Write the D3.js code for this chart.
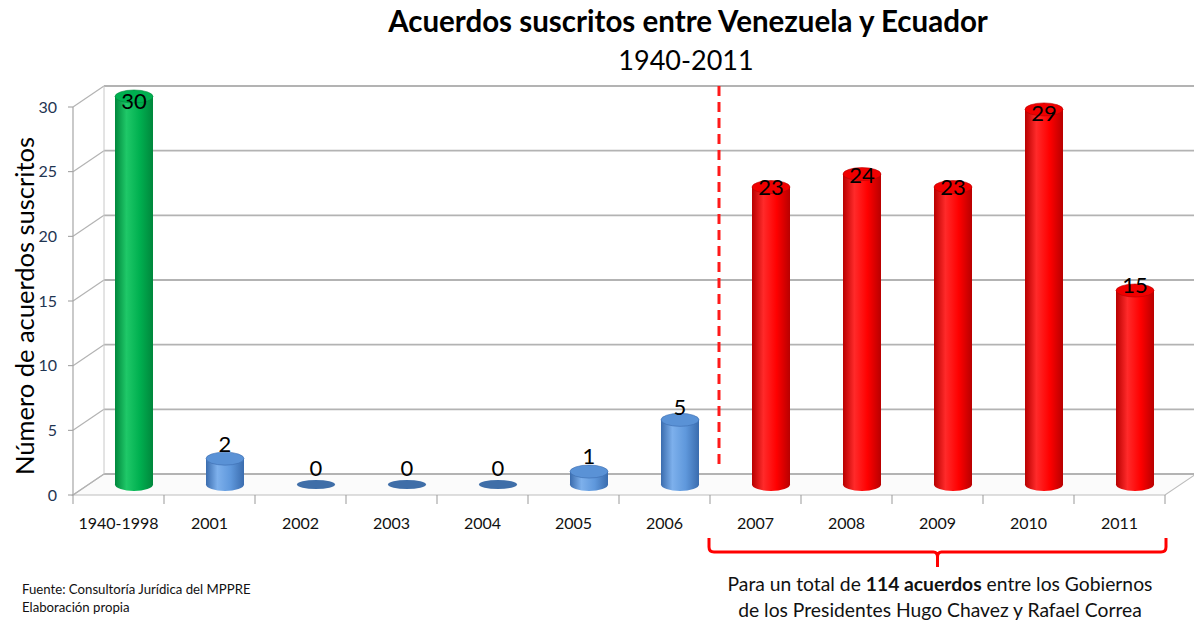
<!DOCTYPE html>
<html>
<head>
<meta charset="utf-8">
<script src="https://cdn.jsdelivr.net/npm/d3@7"></script>
<style>
  body { margin: 0; background: #fff; }
  svg { display: block; font-family: Lato, "Open Sans", sans-serif; }
</style>
</head>
<body>
<div id="chart"></div>
<script>
// Acuerdos suscritos entre Venezuela y Ecuador, 1940-2011
var categories = ["1940-1998", "2001", "2002", "2003", "2004", "2005", "2006",
                  "2007", "2008", "2009", "2010", "2011"];
var values = [30, 2, 0, 0, 0, 1, 5, 23, 24, 23, 29, 15];
var groups = ["pre", "chavez", "chavez", "chavez", "chavez", "chavez", "chavez",
              "correa", "correa", "correa", "correa", "correa"];
var yTicks = [0, 5, 10, 15, 20, 25, 30];

var W = 1194, H = 623;
var svg = d3.select("#chart").append("svg").attr("width", W).attr("height", H);
var defs = svg.append("defs");

// front plane and the 3d depth
var x = d3.scaleBand().domain(categories).range([73, 1165]);
var yFront = d3.scaleLinear().domain([0, 30]).range([495, 107]);
var depthX = 31, depthY = -21;
function yBack(v){ return yFront(v) + depthY; }
function yMid(v){ return yFront(v) + depthY / 2; }

var palette = {
  pre:    {edge: "#00873c", mid: "#00b050", light: "#1fc868", top: "#00b050", flat: "#00b050"},
  chavez: {edge: "#3a6cae", mid: "#5f98dc", light: "#7db0ec", top: "#5a92d6", flat: "#3f6ea8"},
  correa: {edge: "#b80000", mid: "#ff0000", light: "#ff2a2a", top: "#f00000", flat: "#e00000"}
};
Object.keys(palette).forEach(function(k){
  var p = palette[k];
  var g = defs.append("linearGradient").attr("id", "grad-" + k)
    .attr("x1", "0%").attr("x2", "100%").attr("y1", "0%").attr("y2", "0%");
  g.append("stop").attr("offset", "0%").attr("stop-color", p.edge);
  g.append("stop").attr("offset", "30%").attr("stop-color", p.light);
  g.append("stop").attr("offset", "65%").attr("stop-color", p.mid);
  g.append("stop").attr("offset", "100%").attr("stop-color", p.edge);
});

var grid = svg.append("g");
var x0 = x.range()[0], x1 = x.range()[1];

// floor
grid.append("polygon")
  .attr("points", [[x0, yFront(0)], [x1, yFront(0)], [x1 + depthX, yBack(0)], [x0 + depthX, yBack(0)]].join(" "))
  .attr("fill", "#fbfbfb").attr("stroke", "#bdbdbd").attr("stroke-width", 1.2);

// back wall grid lines + left wall diagonals
yTicks.forEach(function(t){
  grid.append("line")
    .attr("x1", x0 + depthX).attr("x2", W).attr("y1", yBack(t)).attr("y2", yBack(t))
    .attr("stroke", "#b3b3b3").attr("stroke-width", 1.8);
  grid.append("line")
    .attr("x1", x0).attr("y1", yFront(t)).attr("x2", x0 + depthX).attr("y2", yBack(t))
    .attr("stroke", "#b3b3b3").attr("stroke-width", 1.2);
  grid.append("line")
    .attr("x1", x0 - 5).attr("x2", x0).attr("y1", yFront(t)).attr("y2", yFront(t))
    .attr("stroke", "#999").attr("stroke-width", 1);
});
grid.append("line")
  .attr("x1", x0 + depthX).attr("x2", x0 + depthX).attr("y1", yBack(30)).attr("y2", yBack(0))
  .attr("stroke", "#c8c8c8").attr("stroke-width", 1);
grid.append("line")
  .attr("x1", x0).attr("x2", x0).attr("y1", yFront(30)).attr("y2", yFront(0))
  .attr("stroke", "#a6a6a6").attr("stroke-width", 1.2);

// category ticks
categories.concat(["end"]).forEach(function(c, i){
  var xx = x0 + x.step() * i;
  grid.append("line").attr("x1", xx).attr("x2", xx)
    .attr("y1", yFront(0)).attr("y2", yFront(0) + 9)
    .attr("stroke", "#999").attr("stroke-width", 1);
});

// y tick labels
svg.append("g").selectAll("text").data(yTicks).enter().append("text")
  .attr("x", 57).attr("y", function(d){ return yFront(d); })
  .attr("dy", "0.35em").attr("text-anchor", "end")
  .attr("font-size", 16).attr("fill", "#1f3552")
  .text(function(d){ return d; });

// x labels
svg.append("g").selectAll("text").data(categories).enter().append("text")
  .attr("x", function(d){ return x(d) + x.bandwidth() / 2; })
  .attr("y", 529).attr("text-anchor", "middle")
  .attr("font-size", 16).attr("fill", "#111")
  .text(function(d){ return d; });

// dashed separator
svg.append("line")
  .attr("x1", 719).attr("x2", 719).attr("y1", yBack(30)).attr("y2", 470)
  .attr("stroke", "#ff1a1a").attr("stroke-width", 3).attr("stroke-dasharray", "10,6");

// cylinders
var rx = 19, ry = 6.5;
var bars = svg.append("g").selectAll("g").data(values).enter().append("g");
bars.each(function(v, i){
  var g = d3.select(this);
  var p = palette[groups[i]];
  var cx = x(categories[i]) + x.bandwidth() / 2 + depthX / 2;
  var yb = yMid(0), yt = yMid(v);
  if (v === 0) {
    g.append("ellipse").attr("cx", cx).attr("cy", yb).attr("rx", rx).attr("ry", 4.5)
      .attr("fill", p.flat);
    return;
  }
  g.append("ellipse").attr("cx", cx).attr("cy", yb).attr("rx", rx).attr("ry", ry)
    .attr("fill", "url(#grad-" + groups[i] + ")");
  g.append("rect").attr("x", cx - rx).attr("y", yt).attr("width", rx * 2).attr("height", yb - yt)
    .attr("fill", "url(#grad-" + groups[i] + ")");
  g.append("ellipse").attr("cx", cx).attr("cy", yt).attr("rx", rx).attr("ry", ry)
    .attr("fill", p.top).attr("stroke", p.edge).attr("stroke-width", 0.6);
});

// value labels
svg.append("g").selectAll("text").data(values).enter().append("text")
  .attr("x", function(d, i){ return x(categories[i]) + x.bandwidth() / 2 + depthX / 2; })
  .attr("y", function(d){ return yMid(d) - 16 + d * 0.7; })
  .attr("dy", "0.35em").attr("text-anchor", "middle")
  .attr("font-size", 22).attr("fill", "#000")
  .text(function(d){ return d; });

// title
svg.append("text").attr("x", 688).attr("y", 32).attr("text-anchor", "middle")
  .attr("font-size", 29.5).attr("font-weight", "bold").attr("fill", "#000")
  .text("Acuerdos suscritos entre Venezuela y Ecuador");
svg.append("text").attr("x", 686).attr("y", 70).attr("text-anchor", "middle")
  .attr("font-size", 27).attr("fill", "#000")
  .text("1940-2011");

// y axis title
svg.append("text").attr("transform", "translate(34,306) rotate(-90)")
  .attr("text-anchor", "middle").attr("font-size", 25.5).attr("fill", "#000")
  .text("Número de acuerdos suscritos");

// bracket under 2007-2011
var bx0 = x("2007") - 1, bx1 = x("2011") + x.bandwidth() + 1, bmid = (bx0 + bx1) / 2;
svg.append("path")
  .attr("d", "M" + bx0 + ",538 L" + bx0 + ",547 Q" + bx0 + ",552 " + (bx0 + 5) + ",552 L" + (bmid - 4) + ",552 Q" + bmid + ",552 " + bmid + ",557 L" + bmid + ",567" +
             " M" + bmid + ",557 Q" + bmid + ",552 " + (bmid + 4) + ",552 L" + (bx1 - 5) + ",552 Q" + bx1 + ",552 " + bx1 + ",547 L" + bx1 + ",538")
  .attr("fill", "none").attr("stroke", "#ff0000").attr("stroke-width", 3);

var note = svg.append("text").attr("x", 940).attr("y", 591).attr("text-anchor", "middle")
  .attr("font-size", 19.3).attr("fill", "#111");
note.append("tspan").text("Para un total de ");
note.append("tspan").attr("font-weight", "bold").text("114 acuerdos");
note.append("tspan").text(" entre los Gobiernos");
svg.append("text").attr("x", 940).attr("y", 617).attr("text-anchor", "middle")
  .attr("font-size", 19.3).attr("fill", "#111")
  .text("de los Presidentes  Hugo Chavez y Rafael Correa");

// source
svg.append("text").attr("x", 22).attr("y", 594).attr("font-size", 13.2).attr("fill", "#111")
  .text("Fuente: Consultoría Jurídica del MPPRE");
svg.append("text").attr("x", 22).attr("y", 612).attr("font-size", 13.2).attr("fill", "#111")
  .text("Elaboración propia");
</script>
</body>
</html>
